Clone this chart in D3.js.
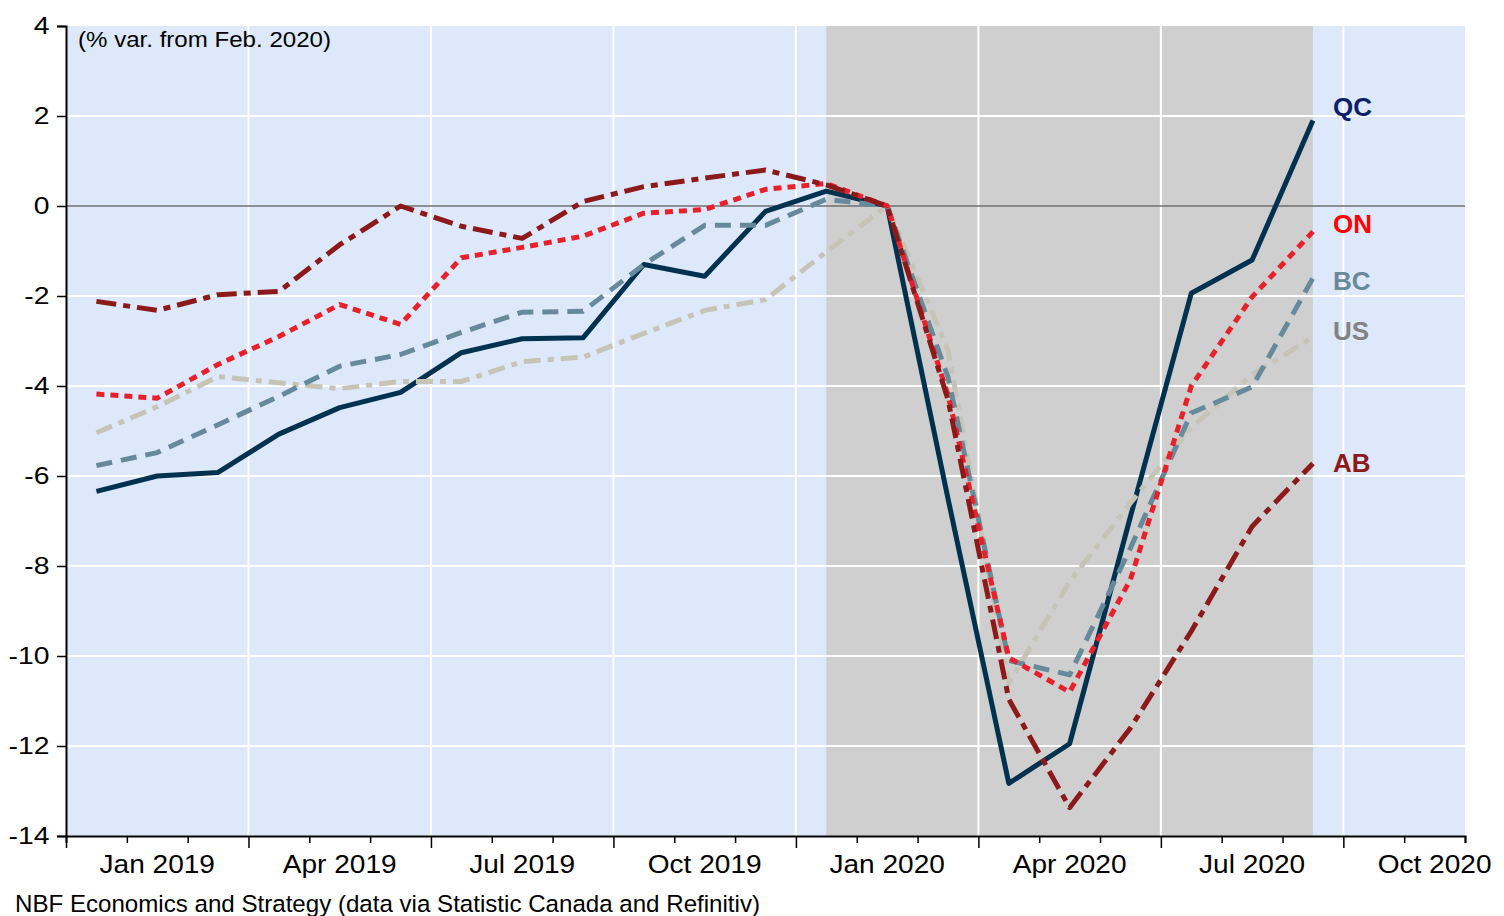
<!DOCTYPE html>
<html>
<head>
<meta charset="utf-8">
<script src="https://cdn.jsdelivr.net/npm/d3@7"></script>
<style>
  html, body { margin: 0; padding: 0; background: #fff; }
  svg { display: block; font-family: 'Liberation Sans', Arial, sans-serif; }
</style>
</head>
<body>
<svg class="chart"></svg>
<script>
const width = 1504
const height = 916
const margin = { top: 26, right: 39, bottom: 80, left: 66 }

// months since Jan 2019; one observation per month, Jan 2019 .. Sep 2020
const monthCount = 23
const quarterLabels = ['Jan 2019', 'Apr 2019', 'Jul 2019', 'Oct 2019', 'Jan 2020', 'Apr 2020', 'Jul 2020', 'Oct 2020']
const yTicks = [-14, -12, -10, -8, -6, -4, -2, 0, 2, 4]
const shadeFrom = 12 // Jan 2020
const shadeTo = 20 // Sep 2020

const qc = [-6.34, -6.0, -5.92, -5.07, -4.48, -4.14, -3.26, -2.95, -2.93, -1.3, -1.56, -0.12, 0.33, 0, -6.5, -12.83, -11.95, -6.9, -1.94, -1.2, 1.9]
const on = [-4.18, -4.27, -3.52, -2.9, -2.19, -2.63, -1.15, -0.92, -0.67, -0.16, -0.08, 0.37, 0.5, 0, -4.2, -10.04, -10.8, -8.3, -4.0, -2.02, -0.57]
const bc = [-5.77, -5.48, -4.86, -4.23, -3.56, -3.3, -2.81, -2.36, -2.34, -1.3, -0.43, -0.43, 0.15, 0, -3.8, -10.1, -10.42, -7.6, -4.6, -4.02, -1.6]
const us = [-5.04, -4.46, -3.79, -3.93, -4.06, -3.9, -3.9, -3.46, -3.36, -2.83, -2.32, -2.08, -1.02, 0, -3.2, -10.6, -8.35, -6.6, -4.92, -3.75, -2.92]
const ab = [-2.12, -2.32, -1.97, -1.9, -0.86, 0, -0.45, -0.72, 0.1, 0.43, 0.62, 0.8, 0.47, 0, -4.3, -10.96, -13.37, -11.6, -9.45, -7.12, -5.72]

const series = [
  { name: 'QC', values: qc, color: '#00314f', label: '#0c1f68', dash: null, labelY: 2.0 },
  { name: 'US', values: us, color: '#c6c4b7', label: '#838383', dash: '17,7,6,7', labelY: -2.98 },
  { name: 'BC', values: bc, color: '#668a9b', label: '#69899a', dash: '16,9', labelY: -1.86 },
  { name: 'ON', values: on, color: '#e8202a', label: '#ff0000', dash: '8,6', labelY: -0.6 },
  { name: 'AB', values: ab, color: '#8c1a1b', label: '#8c1a1b', dash: '20,7,7,7', labelY: -5.92 }
]

const x = d3.scaleLinear().domain([0, monthCount]).range([margin.left, width - margin.right])
const y = d3.scaleLinear().domain([-14, 4]).range([height - margin.bottom, margin.top])

const svg = d3.select('.chart').attr('width', width).attr('height', height)

// plot background + shaded period
svg.append('rect')
  .attr('x', x(0)).attr('y', y(4))
  .attr('width', x(monthCount) - x(0)).attr('height', y(-14) - y(4))
  .attr('fill', '#dde9fb')

svg.append('rect')
  .attr('x', x(shadeFrom + 0.5)).attr('y', y(4))
  .attr('width', x(shadeTo + 0.5) - x(shadeFrom + 0.5)).attr('height', y(-14) - y(4))
  .attr('fill', '#cfcfcf')

// grid
const majorMonths = d3.range(0, monthCount, 3)
svg.append('g')
  .attr('stroke', '#fff').attr('stroke-width', 2)
  .call(g => g.selectAll('line.h').data(yTicks.filter(d => d !== 0 && d !== -14 && d !== 4)).join('line')
    .attr('x1', x(0)).attr('x2', x(monthCount)).attr('y1', d => y(d)).attr('y2', d => y(d)))
  .call(g => g.selectAll('line.v').data(majorMonths.filter(d => d > 0)).join('line')
    .attr('x1', d => x(d)).attr('x2', d => x(d)).attr('y1', y(4)).attr('y2', y(-14)))

svg.append('line')
  .attr('x1', x(0)).attr('x2', x(monthCount)).attr('y1', y(0)).attr('y2', y(0))
  .attr('stroke', '#6f6f6f').attr('stroke-width', 1.5)

// series
const line = d3.line().x((d, i) => x(i + 0.5)).y(d => y(d))
svg.append('g')
  .attr('fill', 'none')
  .attr('stroke-width', 5)
  .attr('stroke-linejoin', 'round')
  .selectAll('path')
  .data(series)
  .join('path')
  .attr('stroke', d => d.color)
  .attr('stroke-dasharray', d => d.dash)
  .attr('d', d => line(d.values))

svg.append('g')
  .selectAll('text')
  .data(series)
  .join('text')
  .attr('x', 1333)
  .attr('y', d => y(d.labelY))
  .attr('fill', d => d.label)
  .attr('font-size', 26)
  .attr('font-weight', 'bold')
  .text(d => d.name)

// axes
svg.append('g')
  .attr('transform', `translate(${x(0)},0)`)
  .call(d3.axisLeft(y).tickValues(yTicks).tickSize(9).tickPadding(7).tickFormat(d => String(d)))
  .call(g => g.select('.domain').attr('stroke', '#000').attr('stroke-width', 2))
  .call(g => g.selectAll('.tick line').attr('stroke', '#000').attr('stroke-width', 1.5))
  .call(g => g.selectAll('.tick text')
    .attr('font-size', 24).attr('fill', '#000').attr('font-family', 'Liberation Sans, Arial')
    .attr('dy', '0.3em')
    .attr('transform', 'scale(1.18,1)').attr('x', -16.5 / 1.18))

svg.append('g')
  .attr('transform', `translate(0,${y(-14)})`)
  .call(d3.axisBottom(x).tickValues(d3.range(0, monthCount + 1)).tickSize(7).tickFormat(''))
  .call(g => g.select('.domain').attr('stroke', '#000').attr('stroke-width', 2))
  .call(g => g.selectAll('.tick line').attr('stroke', '#000').attr('stroke-width', 1.5))
  .call(g => g.selectAll('.tick line').filter(d => d % 3 === 0 && d < monthCount).attr('y2', 12))

svg.append('g')
  .attr('transform', `translate(0,${y(-14)})`)
  .call(d3.axisBottom(x).tickValues(majorMonths.map(d => d + 1.5)).tickSize(0).tickPadding(0)
    .tickFormat((d, i) => quarterLabels[i]))
  .call(g => g.select('.domain').remove())
  .call(g => g.selectAll('.tick text')
    .attr('font-size', 25.5).attr('fill', '#000').attr('font-family', 'Liberation Sans, Arial')
    .attr('dy', 0).attr('y', 37)
    .attr('transform', 'scale(1.1,1)'))
  .call(g => g.selectAll('.tick').attr('transform', d => `translate(${x(d)},0)`))

// texts
svg.append('text')
  .attr('x', 78).attr('y', 47)
  .attr('font-size', 22).attr('textLength', 253).attr('lengthAdjust', 'spacingAndGlyphs')
  .text('(% var. from Feb. 2020)')

svg.append('text')
  .attr('x', 15).attr('y', 912)
  .attr('font-size', 24.5).attr('textLength', 745).attr('lengthAdjust', 'spacingAndGlyphs')
  .text('NBF Economics and Strategy (data via Statistic Canada and Refinitiv)')
</script>
</body>
</html>
